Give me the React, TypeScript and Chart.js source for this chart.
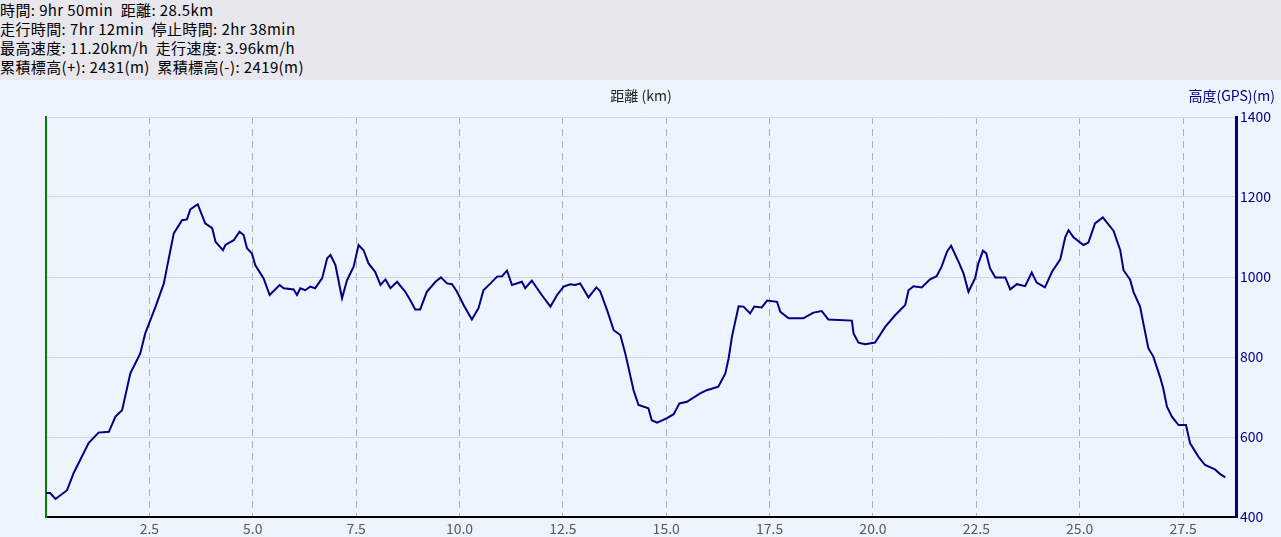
import React, { useEffect, useRef } from "react";
import { Chart, registerables } from "chart.js";

Chart.register(...registerables);

const headerLines: string[] = [
  "時間: 9hr 50min  距離: 28.5km",
  "走行時間: 7hr 12min  停止時間: 2hr 38min",
  "最高速度: 11.20km/h  走行速度: 3.96km/h",
  "累積標高(+): 2431(m)  累積標高(-): 2419(m)",
];

const xTitle = "距離 (km)";
const yTitle = "高度(GPS)(m)";

const distanceKm: number[] = [
  0.0, 0.1, 0.23, 0.51, 0.67, 1.03, 1.27, 1.52, 1.68, 1.84, 2.04, 2.28, 2.4, 2.65, 2.85, 2.93, 3.09, 3.29, 3.41, 3.49,
  3.67, 3.85, 4.02, 4.1, 4.28, 4.34, 4.54, 4.68, 4.78, 4.86, 4.98, 5.06, 5.26, 5.41, 5.65, 5.75, 5.99, 6.07, 6.15, 6.27,
  6.39, 6.51, 6.68, 6.8, 6.88, 7.0, 7.08, 7.16, 7.28, 7.44, 7.56, 7.68, 7.8, 7.96, 8.09, 8.21, 8.33, 8.49, 8.69, 8.81,
  8.93, 9.05, 9.21, 9.42, 9.55, 9.7, 9.82, 9.94, 10.1, 10.3, 10.46, 10.58, 10.75, 10.91, 11.03, 11.15, 11.27, 11.51, 11.59, 11.75,
  11.99, 12.2, 12.36, 12.52, 12.68, 12.8, 12.92, 13.12, 13.31, 13.4, 13.57, 13.73, 13.89, 14.01, 14.21, 14.33, 14.57, 14.65, 14.78, 15.02,
  15.18, 15.32, 15.5, 15.82, 15.98, 16.26, 16.43, 16.51, 16.59, 16.75, 16.87, 17.03, 17.13, 17.31, 17.44, 17.68, 17.76, 17.96, 18.32, 18.56,
  18.76, 18.92, 19.49, 19.53, 19.65, 19.81, 20.05, 20.17, 20.3, 20.54, 20.78, 20.86, 20.98, 21.18, 21.38, 21.54, 21.66, 21.79, 21.89, 22.07,
  22.19, 22.31, 22.47, 22.55, 22.66, 22.74, 22.83, 22.96, 23.2, 23.32, 23.48, 23.68, 23.84, 23.96, 24.16, 24.33, 24.53, 24.65, 24.73, 24.85,
  25.09, 25.21, 25.37, 25.56, 25.82, 25.98, 26.06, 26.22, 26.3, 26.46, 26.54, 26.66, 26.78, 26.94, 27.02, 27.11, 27.23, 27.39, 27.57, 27.67,
  27.87, 28.03, 28.27, 28.4, 28.52,
];

const elevationM: number[] = [
  460, 460, 445, 467, 510, 585, 611, 613, 651, 667, 759, 809, 859, 926, 984, 1026, 1109, 1142, 1144, 1169,
  1182, 1134, 1122, 1088, 1067, 1080, 1092, 1113, 1105, 1072, 1059, 1030, 997, 955, 980, 972, 969, 955, 972, 967,
  976, 972, 997, 1047, 1055, 1030, 988, 947, 992, 1026, 1080, 1067, 1034, 1013, 980, 994, 972, 988, 963, 942,
  919, 919, 963, 988, 999, 984, 982, 963, 930, 894, 922, 967, 984, 1001, 1002, 1016, 980, 988, 972, 991,
  955, 926, 955, 976, 982, 980, 984, 949, 974, 965, 917, 867, 855, 809, 717, 680, 672, 642, 636, 647,
  657, 684, 688, 709, 717, 726, 759, 797, 851, 927, 926, 909, 926, 924, 941, 938, 913, 897, 897, 911,
  915, 894, 891, 859, 836, 832, 836, 855, 876, 905, 930, 967, 977, 974, 994, 1002, 1026, 1063, 1078, 1038,
  1009, 963, 997, 1034, 1066, 1059, 1022, 999, 999, 969, 982, 977, 1011, 986, 974, 1013, 1044, 1099, 1117, 1099,
  1080, 1086, 1134, 1149, 1115, 1067, 1017, 993, 963, 926, 884, 822, 801, 751, 722, 676, 651, 630, 630, 584,
  551, 530, 519, 507, 499,
];

const yTicks: number[] = [400, 600, 800, 1000, 1200, 1400];
const xStep = 2.5;
const xMax = 28.78;

const FONT = "'Noto Sans CJK JP', 'Noto Sans', sans-serif";
const NAVY = "#000080";
const HEADER_BG = "#e7e7ed";
const CHART_BG = "#eef4fd";

export default function App() {
  const canvasRef = useRef<HTMLCanvasElement | null>(null);

  useEffect(() => {
    const canvas = canvasRef.current;
    if (!canvas) return;

    const decoPlugin = {
      id: "deco",
      beforeDraw(chart: any) {
        const { ctx, width, height } = chart;
        ctx.save();
        ctx.fillStyle = CHART_BG;
        ctx.fillRect(0, 0, width, height);
        ctx.restore();
      },
      afterDraw(chart: any) {
        const { ctx, chartArea, width } = chart;
        ctx.save();
        ctx.font = `14px ${FONT}`;
        ctx.textBaseline = "middle";
        ctx.fillStyle = "#222222";
        ctx.textAlign = "center";
        ctx.fillText(xTitle, (chartArea.left + chartArea.right) / 2, 16);
        ctx.fillStyle = NAVY;
        ctx.textAlign = "right";
        ctx.fillText(yTitle, width - 6, 16);
        ctx.restore();
      },
    };

    const chart = new Chart(canvas, {
      type: "line",
      data: {
        datasets: [
          {
            data: distanceKm.map((d, i) => ({ x: d, y: elevationM[i] })),
            borderColor: NAVY,
            borderWidth: 2,
            pointRadius: 0,
            tension: 0,
            fill: false,
            yAxisID: "y",
          },
        ],
      },
      options: {
        animation: false,
        responsive: false,
        devicePixelRatio: 1,
        layout: { padding: { left: 46, right: 0, top: 37, bottom: 0 } },
        plugins: { legend: { display: false }, tooltip: { enabled: false } },
        scales: {
          x: {
            type: "linear",
            position: "bottom",
            min: 0,
            max: xMax,
            ticks: {
              stepSize: xStep,
              includeBounds: false,
              color: "#5a5a5a",
              padding: 3,
              font: { family: FONT, size: 14 },
              maxRotation: 0,
              autoSkip: false,
              callback: (v: any) => (Number(v) === 0 ? "" : Number(v).toFixed(1)),
            },
            grid: {
              drawTicks: false,
              color: (c: any) => (c.tick && c.tick.value === 0 ? "rgba(0,0,0,0)" : "#abaeb6"),
              lineWidth: 1,
            },
            border: { color: "#000000", width: 2, dash: [7, 5] },
            afterFit: (s: any) => {
              s.height = 20;
            },
          },
          y: {
            type: "linear",
            position: "right",
            min: 400,
            max: 1400,
            afterBuildTicks: (s: any) => {
              s.ticks = yTicks.map((v) => ({ value: v }));
            },
            ticks: {
              color: NAVY,
              padding: 4,
              font: { family: FONT, size: 14 },
              callback: (v: any) => String(v),
            },
            grid: {
              drawTicks: false,
              color: (c: any) => (c.tick && c.tick.value === 400 ? "rgba(0,0,0,0)" : "#d3d6de"),
              lineWidth: 1,
            },
            border: { color: NAVY, width: 3 },
            afterFit: (s: any) => {
              s.width = 45;
            },
          },
          yl: {
            type: "linear",
            position: "left",
            min: 400,
            max: 1400,
            ticks: { display: false },
            grid: { display: false, drawTicks: false },
            border: { color: "#008000", width: 2 },
            afterFit: (s: any) => {
              s.width = 0;
            },
          },
        },
      },
      plugins: [decoPlugin],
    });

    return () => {
      chart.destroy();
    };
  }, []);

  return (
    <div style={{ position: "absolute", left: 0, top: 0, width: 1281, height: 537, overflow: "hidden" }}>
      <div
        style={{
          width: 1281,
          height: 80,
          background: HEADER_BG,
          fontFamily: FONT,
          fontSize: 15,
          lineHeight: "19px",
          letterSpacing: "0.4px",
          color: "#000",
          paddingTop: 0,
          boxSizing: "border-box",
          whiteSpace: "pre",
        }}
      >
        {headerLines.map((l, i) => (
          <div key={i}>{l}</div>
        ))}
      </div>
      <canvas ref={canvasRef} width={1281} height={457} style={{ display: "block", width: 1281, height: 457 }} />
    </div>
  );
}
